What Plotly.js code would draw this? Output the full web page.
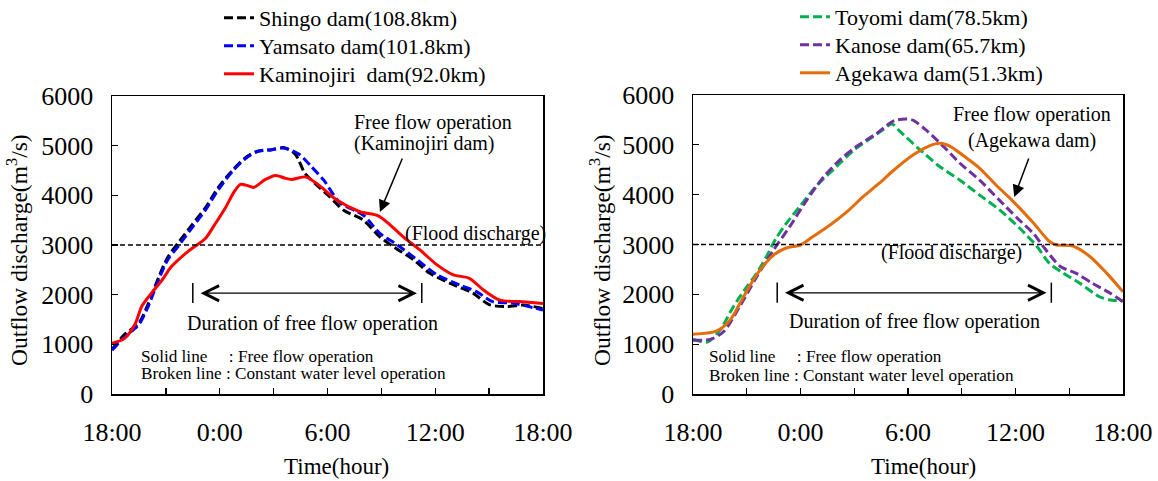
<!DOCTYPE html>
<html>
<head>
<meta charset="utf-8">
<script src="https://cdn.plot.ly/plotly-3.0.1.min.js"></script>
<style>html,body{margin:0;padding:0;background:#fff;}#chart{width:1158px;height:481px;}</style>
</head>
<body>
<div id="chart"></div>
<script>
// ---- tick labels (hours since 18:00) ----
const tickHours = [0, 3, 6, 9, 12, 15, 18, 21, 24];
const tickLabels = ['18:00', '', '0:00', '', '6:00', '', '12:00', '', '18:00'];

// ---- left panel series ----
const shingoHours = [0, 0.7, 1.5, 2.0, 2.6, 3.1, 3.7, 4.4, 5.2, 5.9, 6.7, 7.4, 8.1, 8.9, 9.6, 10.2, 10.75, 11.3, 12.1, 12.9, 14.0, 14.9, 15.7, 16.8, 17.7, 19.0, 20.1, 21.0, 22.0, 22.9, 24];
const shingoFlow  = [900, 1200, 1430, 1800, 2350, 2750, 3050, 3380, 3750, 4150, 4500, 4750, 4890, 4920, 4960, 4830, 4440, 4240, 3980, 3700, 3500, 3170, 2960, 2700, 2430, 2200, 2030, 1800, 1760, 1790, 1720];

const yamsatoHours = [0, 0.7, 1.5, 2.0, 2.6, 3.1, 3.7, 4.4, 5.2, 5.9, 6.7, 7.4, 8.1, 8.9, 9.6, 10.4, 11.1, 11.8, 12.7, 14.0, 14.9, 15.9, 17.0, 18.1, 19.4, 20.3, 21.2, 22.3, 24];
const yamsatoFlow  = [880, 1150, 1400, 1750, 2300, 2700, 2980, 3320, 3700, 4100, 4480, 4730, 4880, 4920, 4950, 4830, 4580, 4300, 3850, 3600, 3240, 3000, 2700, 2400, 2190, 2060, 1860, 1830, 1690];

const kaminojiriHours = [0, 0.7, 1.3, 1.65, 2.2, 2.8, 3.3, 4.1, 4.6, 5.2, 5.7, 6.3, 6.8, 7.15, 7.5, 7.9, 8.5, 9.1, 9.6, 10.0, 10.8, 11.5, 12.5, 13.8, 14.8, 15.5, 16.2, 17.15, 18.1, 19.0, 19.9, 20.7, 21.6, 22.7, 24];
const kaminojiriFlow  = [1020, 1120, 1420, 1760, 2030, 2300, 2560, 2830, 2970, 3130, 3400, 3740, 4070, 4220, 4200, 4160, 4310, 4400, 4350, 4320, 4370, 4210, 3910, 3670, 3590, 3400, 3170, 2900, 2600, 2400, 2330, 2090, 1890, 1860, 1820];

// ---- right panel series ----
const toyomiHours = [0, 0.8, 1.5, 2.25, 3.0, 3.55, 4.1, 4.6, 5.2, 6.0, 6.9, 8.0, 9.0, 10.0, 10.6, 11.1, 11.55, 12.67, 13.78, 14.9, 16.0, 17.13, 18.25, 19.2, 19.9, 20.7, 21.6, 22.7, 23.4, 24];
const toyomiFlow  = [1100, 1040, 1280, 1750, 2150, 2420, 2760, 3100, 3420, 3780, 4180, 4560, 4900, 5150, 5300, 5420, 5270, 4900, 4560, 4290, 3990, 3690, 3320, 2960, 2620, 2420, 2220, 1950, 1880, 1880];

const kanoseHours = [0, 1.0, 1.7, 2.6, 3.55, 4.5, 5.4, 6.35, 7.3, 8.2, 9.1, 10.25, 11.2, 11.9, 12.3, 13.0, 14.0, 14.9, 16.0, 17.1, 18.1, 19.0, 19.7, 20.5, 21.4, 22.3, 23.3, 24];
const kanoseFlow  = [1080, 1100, 1250, 1750, 2350, 2890, 3360, 3890, 4360, 4700, 4960, 5230, 5480, 5520, 5490, 5300, 4960, 4630, 4290, 3890, 3530, 3220, 2890, 2560, 2420, 2220, 2020, 1850];

const agekawaHours = [0, 1.3, 2.06, 2.62, 3.2, 3.75, 4.5, 5.2, 6.0, 6.7, 7.65, 8.6, 9.5, 10.4, 11.2, 12.3, 13.2, 13.8, 14.4, 15.1, 16.0, 16.9, 17.6, 18.1, 19.0, 19.9, 20.3, 21.2, 22.15, 23.1, 24];
const agekawaFlow  = [1200, 1260, 1480, 1820, 2190, 2490, 2790, 2930, 2990, 3160, 3390, 3660, 3960, 4230, 4490, 4800, 4980, 5030, 4960, 4780, 4530, 4200, 3960, 3780, 3430, 3060, 2990, 2970, 2760, 2420, 2050];

// ---- reference values ----
const floodDischarge = 3000;
const floodSpanHours = [0, 24];
const leftFreeFlowHours = [4.5, 17.25];
const rightFreeFlowHours = [4.7, 20.0];
const durationBarFlow = [1830, 2235];
const durationArrowFlow = 2030;
const leftPointer = {tip: [14.92, 3664], tail: [16.2, 4771]};
const rightPointer = {tip: [17.93, 3953], tail: [18.77, 4756]};

const FONT = 'Liberation Serif, Times New Roman, serif';
const W = 1158, H = 481;

function seriesTrace(x, y, name, color, dash, xa, ya, legend) {
  return {x: x, y: y, name: name, type: 'scatter', mode: 'lines',
    line: {color: color, width: 3, dash: dash, shape: 'spline', smoothing: 0.8},
    xaxis: xa, yaxis: ya, legend: legend, hoverinfo: 'skip'};
}

const traces = [
  seriesTrace(shingoHours, shingoFlow, 'Shingo dam(108.8km)', '#000000', '9px,4px', 'x', 'y', 'legend'),
  seriesTrace(yamsatoHours, yamsatoFlow, 'Yamsato dam(101.8km)', '#0000FF', '9px,4px', 'x', 'y', 'legend2'),
  seriesTrace(kaminojiriHours, kaminojiriFlow, 'Kaminojiri\u00a0 dam(92.0km)', '#FF0000', 'solid', 'x', 'y', 'legend3'),
  seriesTrace(toyomiHours, toyomiFlow, 'Toyomi dam(78.5km)', '#00B050', '9px,4px', 'x2', 'y2', 'legend4'),
  seriesTrace(kanoseHours, kanoseFlow, 'Kanose dam(65.7km)', '#7030A0', '9px,4px', 'x2', 'y2', 'legend5'),
  seriesTrace(agekawaHours, agekawaFlow, 'Agekawa dam(51.3km)', '#E46C0A', 'solid', 'x2', 'y2', 'legend6')
];

// flood discharge reference lines and duration bars
[['x', 'y', leftFreeFlowHours], ['x2', 'y2', rightFreeFlowHours]].forEach(function (p) {
  traces.push({x: floodSpanHours, y: [floodDischarge, floodDischarge], type: 'scatter', mode: 'lines',
    line: {color: '#000', width: 1.3, dash: '5px,3px'}, xaxis: p[0], yaxis: p[1], showlegend: false, hoverinfo: 'skip'});
  traces.push({x: [p[2][0], p[2][0], null, p[2][1], p[2][1]],
    y: [durationBarFlow[0], durationBarFlow[1], null, durationBarFlow[0], durationBarFlow[1]],
    type: 'scatter', mode: 'lines', line: {color: '#000', width: 1.5},
    xaxis: p[0], yaxis: p[1], showlegend: false, hoverinfo: 'skip', cliponaxis: false});
});

function xAxis(domain, anchor) {
  return {domain: domain, anchor: anchor, range: [0, 24], tickmode: 'array', tickvals: tickHours, ticktext: tickLabels,
    ticks: 'inside', ticklen: 6, tickwidth: 1.3, tickcolor: '#000', showline: true, linecolor: '#000', linewidth: 1.5,
    mirror: true, showgrid: false, zeroline: false, ticklabelstandoff: 14, automargin: false,
    tickfont: {family: FONT, size: 26, color: '#000'}};
}
function yAxis(domain, anchor) {
  return {domain: domain, anchor: anchor, range: [0, 6000], dtick: 1000, tick0: 0,
    ticks: 'inside', ticklen: 6, tickwidth: 1.3, tickcolor: '#000', showline: true, linecolor: '#000', linewidth: 1.5,
    mirror: true, showgrid: false, zeroline: false, ticklabelstandoff: 12, automargin: false,
    tickfont: {family: FONT, size: 26, color: '#000'}};
}

function txt(text, x, y, xref, yref, size, xanchor, extra) {
  const a = {text: text, x: x, y: y, xref: xref, yref: yref, showarrow: false,
    xanchor: xanchor || 'center', yanchor: 'middle', font: {family: FONT, size: size, color: '#000'}};
  return Object.assign(a, extra || {});
}
function doubleArrow(span, xref, yref) {
  return {text: '', x: span[1] - 0.27, y: durationArrowFlow, ax: span[0] + 0.35, ay: durationArrowFlow,
    xref: xref, yref: yref, axref: xref, ayref: yref, showarrow: true, arrowside: 'end+start',
    arrowhead: 5, startarrowhead: 5, arrowsize: 2.3, startarrowsize: 2.3, arrowwidth: 1.3, arrowcolor: '#000'};
}
function pointer(p, xref, yref) {
  return {text: '', x: p.tip[0], y: p.tip[1], ax: p.tail[0], ay: p.tail[1], xref: xref, yref: yref,
    axref: xref, ayref: yref, showarrow: true, arrowhead: 2, arrowsize: 1.6, arrowwidth: 1.5, arrowcolor: '#000'};
}

const annotations = [
  // left panel
  txt('Free flow operation', 13.36, 5476, 'x', 'y', 20, 'left'),
  txt('(Kaminojiri dam)', 13.36, 5053, 'x', 'y', 20, 'left'),
  txt('(Flood discharge)', 16.2, 3241, 'x', 'y', 20, 'left'),
  txt('Duration of free flow operation', 11.19, 1429, 'x', 'y', 20, 'center'),
  txt('Solid line\u00a0\u00a0\u00a0\u00a0\u00a0: Free flow operation', 1.5, 760, 'x', 'y', 17.2, 'left'),
  txt('Broken line : Constant water level operation', 1.5, 415, 'x', 'y', 17.2, 'left'),
  doubleArrow(leftFreeFlowHours, 'x', 'y'),
  pointer(leftPointer, 'x', 'y'),
  // right panel
  txt('Free flow operation', 18.92, 5599, 'x2', 'y2', 20, 'center'),
  txt('(Agekawa dam)', 18.92, 5097, 'x2', 'y2', 20, 'center'),
  txt('(Flood discharge)', 14.45, 2830, 'x2', 'y2', 20, 'center'),
  txt('Duration of free flow operation', 12.39, 1445, 'x2', 'y2', 20, 'center'),
  txt('Solid line\u00a0\u00a0\u00a0\u00a0\u00a0: Free flow operation', 0.78, 758, 'x2', 'y2', 17.2, 'left'),
  txt('Broken line : Constant water level operation', 0.78, 373, 'x2', 'y2', 17.2, 'left'),
  doubleArrow(rightFreeFlowHours, 'x2', 'y2'),
  pointer(rightPointer, 'x2', 'y2'),
  // axis titles
  txt('Outflow discharge(m<sup>3</sup>/s)', 17 / W, 1 - 250 / H, 'paper', 'paper', 23.5, 'center', {textangle: -90}),
  txt('Outflow discharge(m<sup>3</sup>/s)', 600 / W, 1 - 250 / H, 'paper', 'paper', 23.5, 'center', {textangle: -90}),
  txt('Time(hour)', 336 / W, 1 - 466 / H, 'paper', 'paper', 23, 'center'),
  txt('Time(hour)', 923 / W, 1 - 466 / H, 'paper', 'paper', 23, 'center')
];

function legendAt(xpx, ypx) {
  return {font: {family: FONT, size: 22, color: '#000'}, bgcolor: 'rgba(0,0,0,0)', borderwidth: 0,
    tracegroupgap: 0, xanchor: 'left', yanchor: 'middle', x: xpx / W, y: 1 - ypx / H,
    orientation: 'v', itemclick: false, itemdoubleclick: false};
}

const layout = {
  width: W, height: H, margin: {l: 0, r: 0, t: 0, b: 0, autoexpand: false}, paper_bgcolor: '#fff', plot_bgcolor: '#fff',
  font: {family: FONT, color: '#000'},
  xaxis: xAxis([112 / W, 543 / W], 'y'),
  yaxis: yAxis([1 - 394 / H, 1 - 96 / H], 'x'),
  xaxis2: xAxis([693 / W, 1123 / W], 'y2'),
  yaxis2: yAxis([1 - 394 / H, 1 - 95 / H], 'x2'),
  legend: legendAt(219, 18),
  legend2: legendAt(219, 46),
  legend3: legendAt(219, 74),
  legend4: legendAt(795, 17),
  legend5: legendAt(795, 45),
  legend6: legendAt(795, 73),
  annotations: annotations,
  showlegend: true
};

Plotly.newPlot('chart', traces, layout, {staticPlot: true, displayModeBar: false});
</script>
</body>
</html>
